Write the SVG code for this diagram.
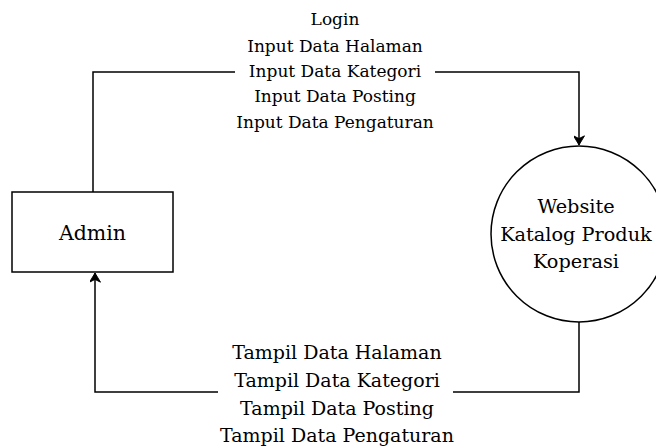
<svg xmlns="http://www.w3.org/2000/svg" width="656" height="448" viewBox="0 0 656 448">
<defs>
<style>
.t{font-family:"DejaVu Serif","Liberation Serif",serif;fill:#000;text-anchor:middle}
.top{font-size:17px}
.bot{font-size:19px}
.nd{font-size:20.5px}
.cn{font-size:19.3px}
.s{fill:#fff;stroke:#000;stroke-width:1.5}
.c{fill:none;stroke:#000;stroke-width:1.5}
</style>
<marker id="ah" viewBox="0 0 10 12" refX="10" refY="6" markerWidth="12" markerHeight="11" markerUnits="userSpaceOnUse" orient="auto"><path d="M0,0 L10,6 L0,12 L3,6 z" fill="#000" stroke="#000" stroke-width="1"/></marker>
</defs>
<rect width="656" height="448" fill="#fff"/>
<g id="connectors">
<path class="c" d="M93,192 V72 H579 V145" marker-end="url(#ah)"/>
<path class="c" d="M579,322 V392 H95 V273" marker-end="url(#ah)"/>
</g>
<g id="label-top">
<rect x="235" y="60" width="200" height="24" fill="#fff"/>
<text class="t top" x="335" y="25">Login</text>
<text class="t top" x="335" y="52">Input Data Halaman</text>
<text class="t top" x="335" y="77">Input Data Kategori</text>
<text class="t top" x="335" y="102">Input Data Posting</text>
<text class="t top" x="335" y="128">Input Data Pengaturan</text>
</g>
<g id="label-bottom">
<rect x="218" y="380" width="235" height="24" fill="#fff"/>
<text class="t bot" x="337" y="359">Tampil Data Halaman</text>
<text class="t bot" x="337" y="387">Tampil Data Kategori</text>
<text class="t bot" x="337" y="415">Tampil Data Posting</text>
<text class="t bot" x="337" y="442">Tampil Data Pengaturan</text>
</g>
<g id="admin">
<rect class="s" x="12" y="192" width="161" height="80"/>
<text class="t nd" x="92.5" y="240">Admin</text>
</g>
<g id="website">
<circle class="s" cx="579" cy="234" r="88"/>
<text class="t cn" x="576" y="213">Website</text>
<text class="t cn" x="576" y="241">Katalog Produk</text>
<text class="t cn" x="576" y="268">Koperasi</text>
</g>
</svg>
